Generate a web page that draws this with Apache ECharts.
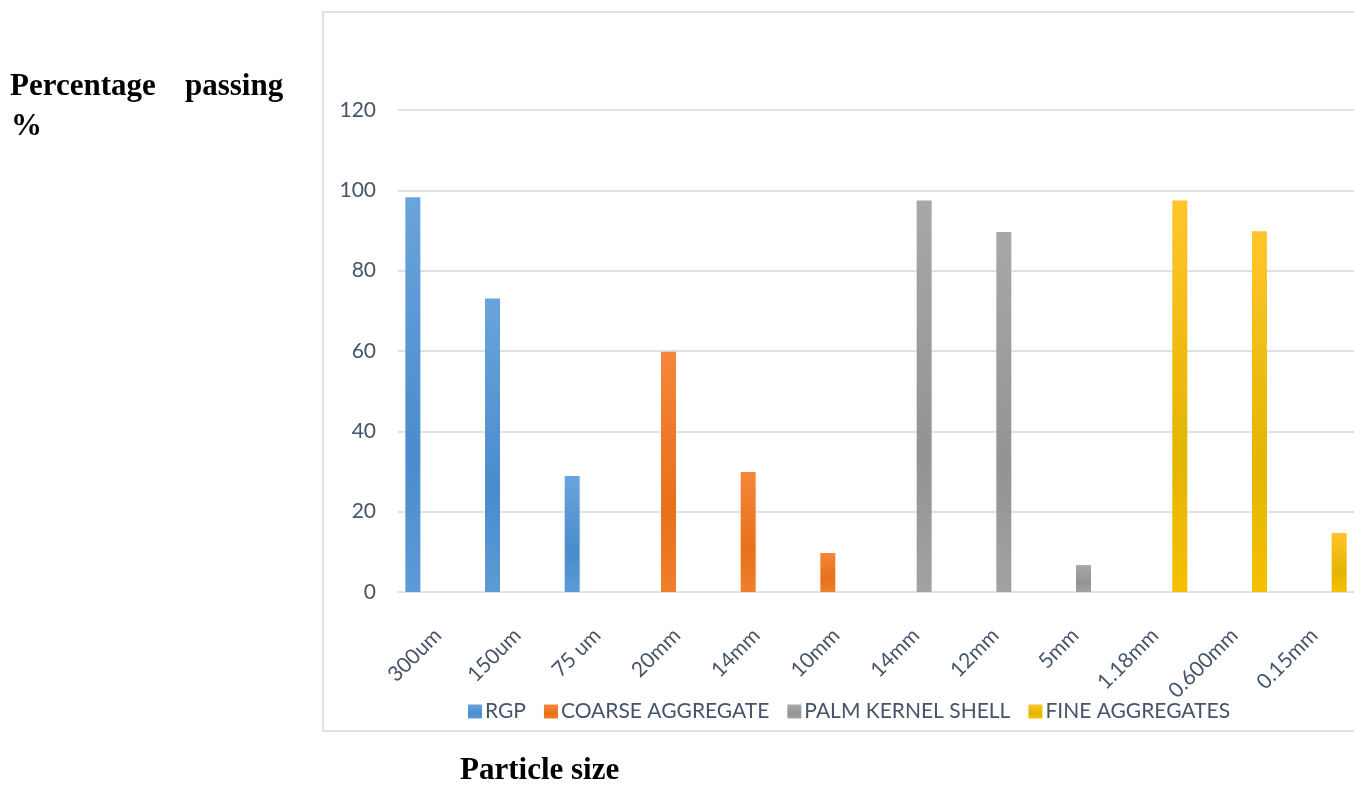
<!DOCTYPE html>
<html>
<head>
<meta charset="utf-8">
<script src="https://cdn.jsdelivr.net/npm/echarts@6/dist/echarts.min.js"></script>
<style>
html,body{margin:0;padding:0;background:#fff;}
#chart{width:1354px;height:785px;}
</style>
</head>
<body>
<div id="chart"></div>
<script>
const categories = ['300um','150um','75 um','20mm','14mm','10mm','14mm','12mm','5mm','1.18mm','0.600mm','0.15mm'];
const seriesNames = ['RGP','COARSE AGGREGATE','PALM KERNEL SHELL','FINE AGGREGATES'];
const rgp      = [98.3, 73.1, 28.9, null, null, null, null, null, null, null, null, null];
const coarse   = [null, null, null, 59.8, 29.9, 9.7, null, null, null, null, null, null];
const palm     = [null, null, null, null, null, null, 97.5, 89.6, 6.7, null, null, null];
const fine     = [null, null, null, null, null, null, null, null, null, 97.5, 89.8, 14.7];
const yTicks = [0, 20, 40, 60, 80, 100, 120];

const colors = [
  ['#6aa4dc','#4a8ccc','#5b9bd5'],
  ['#f5863a','#e8701a','#f07f2c'],
  ['#a8a8a8','#939393','#a2a2a2'],
  ['#ffc52a','#e3b500','#f6c000']
];
const textColor = '#44546a';
const gridColor = '#dde2e9';
const font = 'Lato, "Open Sans", sans-serif';
const serif = 'bold 31px "Liberation Serif", "Times New Roman", serif';

function grad(c){
  return new echarts.graphic.LinearGradient(0,0,0,1,[
    {offset:0,color:c[0]},{offset:0.65,color:c[1]},{offset:1,color:c[2]}
  ]);
}

const chart = echarts.init(document.getElementById('chart'), null, {renderer:'canvas'});
const dataSets = [rgp, coarse, palm, fine];

chart.setOption({
  backgroundColor:'#fff',
  animation:false,
  graphic:[
    {type:'rect', shape:{x:323,y:12,width:1100,height:719}, style:{fill:'none',stroke:gridColor,lineWidth:2}, z:-1},
    {type:'text', left:10, top:71, style:{text:'Percentage', font:serif, fill:'#000'}},
    {type:'text', left:185, top:71, style:{text:'passing', font:serif, fill:'#000'}},
    {type:'text', left:11, top:111, style:{text:'%', font:serif, fill:'#000'}},
    {type:'text', left:460, top:755, style:{text:'Particle size', font:serif, fill:'#000'}}
  ],
  legend:{
    data:seriesNames,
    left:463, top:696,
    itemWidth:14, itemHeight:14, itemGap:18,
    icon:'rect',
    textStyle:{color:textColor, fontSize:21, fontFamily:font, padding:[0,0,0,-2]}
  },
  grid:{left:398, right:-4, top:110, bottom:193, containLabel:false},
  xAxis:{
    type:'category',
    data:categories,
    boundaryGap:true,
    axisLine:{show:true, lineStyle:{color:gridColor, width:2}},
    axisTick:{show:false},
    axisLabel:{rotate:45, margin:40, color:textColor, fontSize:21, fontFamily:font, interval:0}
  },
  yAxis:{
    type:'value', min:0, max:120, interval:20,
    axisLine:{show:false}, axisTick:{show:false},
    axisLabel:{margin:22, color:textColor, fontSize:21, fontFamily:font},
    splitLine:{lineStyle:{color:gridColor, width:2}}
  },
  series: dataSets.map((d,i)=>({
    name:seriesNames[i],
    type:'bar',
    data:d,
    barWidth:15,
    barGap:'11%',
    itemStyle:{color:grad(colors[i])}
  }))
});
</script>
</body>
</html>
